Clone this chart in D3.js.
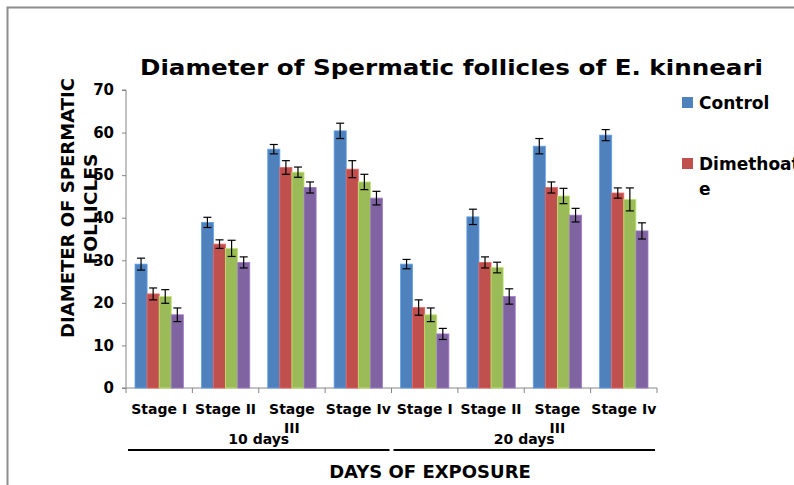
<!DOCTYPE html>
<html>
<head>
<meta charset="utf-8">
<script src="https://cdn.jsdelivr.net/npm/d3@7"></script>
<style>
  body { margin: 0; background: #fff; }
  text { font-family: "DejaVu Sans", Arial, sans-serif; font-weight: bold; fill: #000; }
  .axis path, .axis line { stroke: #868686; }
</style>
</head>
<body>
<div id="chart"></div>
<script>
// DATA
const periods = ['10 days', '20 days']
const stages = ['Stage I', 'Stage II', 'Stage III', 'Stage Iv']
const seriesNames = ['Control', 'Dimethoate', 'Series 3', 'Series 4']
const seriesColours = ['#4F81BD', '#C0504D', '#9BBB59', '#8064A2']
// values per series, order: 10 days (I, II, III, Iv), 20 days (I, II, III, Iv)
const control    = [29.1, 38.9, 56.1, 60.4, 29.1, 40.2, 56.8, 59.4]
const dimethoate = [22.1, 33.8, 51.8, 51.4, 18.9, 29.5, 47.1, 45.8]
const series3    = [21.5, 32.8, 50.7, 48.4, 17.2, 28.3, 45.1, 44.3]
const series4    = [17.2, 29.5, 47.1, 44.6, 12.7, 21.5, 40.6, 36.9]
const errControl    = [1.4, 1.2, 1.1, 1.8, 1.1, 1.8, 1.8, 1.3]
const errDimethoate = [1.4, 1.0, 1.6, 2.0, 1.8, 1.3, 1.3, 1.2]
const errSeries3    = [1.6, 1.9, 1.2, 1.8, 1.6, 1.25, 1.8, 2.7]
const errSeries4    = [1.6, 1.3, 1.3, 1.6, 1.3, 1.8, 1.6, 1.9]
const yTicks = [0, 10, 20, 30, 40, 50, 60, 70]

const values = [control, dimethoate, series3, series4]
const errors = [errControl, errDimethoate, errSeries3, errSeries4]

//MARGIN CONVENTION
const W = 794, H = 485
const PLOT = { LEFT: 126, RIGHT: 657, TOP: 90, BOTTOM: 388 }

const svg = d3.select('#chart').append('svg')
  .attr('width', W).attr('height', H)

// frame
svg.append('rect').attr('x', 7.5).attr('y', 7.5).attr('width', W + 20).attr('height', H + 20)
  .attr('fill', 'none').attr('stroke', '#8c8c8c').attr('stroke-width', 2)

// categories
const cats = []
periods.forEach(p => stages.forEach(s => cats.push(p + '|' + s)))

//SCALES
const x0 = d3.scaleBand().domain(cats).range([PLOT.LEFT, PLOT.RIGHT])
const x1 = d3.scaleBand().domain(seriesNames).range([9, x0.bandwidth() - 9])
const y = d3.scaleLinear().domain([0, 70]).range([PLOT.BOTTOM, PLOT.TOP])

// TITLE
svg.append('text').text('Diameter of Spermatic follicles of E. kinneari')
  .attr('x', 140).attr('y', 75)
  .attr('textLength', 623).attr('lengthAdjust', 'spacingAndGlyphs')
  .style('font-size', '22px')

// Y AXIS
const gY = svg.append('g').attr('class', 'axis')
  .attr('transform', `translate(${PLOT.LEFT},0)`)
  .call(d3.axisLeft(y).tickValues(yTicks).tickSize(4).tickPadding(8))
gY.select('.domain').attr('d', `M-4,${PLOT.TOP}H0V${PLOT.BOTTOM}H-4`)
gY.selectAll('text').style('font-size', '15px').style('font-family', '"DejaVu Sans", Arial, sans-serif').style('font-weight', 'bold')

// X AXIS (band boundaries as ticks)
const gX = svg.append('g').attr('class', 'axis')
gX.append('line').attr('x1', PLOT.LEFT).attr('x2', PLOT.RIGHT)
  .attr('y1', PLOT.BOTTOM).attr('y2', PLOT.BOTTOM)
const bounds = cats.map(c => x0(c)).concat([PLOT.RIGHT])
gX.selectAll('.tk').data(bounds).join('line').attr('class', 'tk')
  .attr('x1', d => d).attr('x2', d => d)
  .attr('y1', PLOT.BOTTOM).attr('y2', PLOT.BOTTOM + 5)

// stage labels
cats.forEach(c => {
  const label = c.split('|')[1]
  const t = svg.append('text').attr('text-anchor', 'middle')
    .attr('x', x0(c) + x0.bandwidth() / 2).attr('y', 414)
    .style('font-size', '14px')
  const words = label.length > 8 ? label.split(' ') : [label]
  words.forEach((w, i) => t.append('tspan')
    .attr('x', x0(c) + x0.bandwidth() / 2).attr('dy', i ? 19 : 0).text(w))
})

// period labels and lines
periods.forEach(p => {
  const first = x0(p + '|' + stages[0])
  const last = x0(p + '|' + stages[stages.length - 1]) + x0.bandwidth()
  svg.append('text').text(p).attr('text-anchor', 'middle')
    .attr('x', (first + last) / 2).attr('y', 444)
    .style('font-size', '14px')
  svg.append('line').attr('x1', first + 2).attr('x2', last - 2)
    .attr('y1', 450).attr('y2', 450)
    .attr('stroke', '#000').attr('stroke-width', 2)
})

svg.append('text').text('DAYS OF EXPOSURE').attr('text-anchor', 'middle')
  .attr('x', 430).attr('y', 478).style('font-size', '18px')

// Y TITLE
svg.append('text').text('DIAMETER OF SPERMATIC').attr('text-anchor', 'middle')
  .attr('transform', 'translate(74,208) rotate(-90)')
  .attr('textLength', 260).attr('lengthAdjust', 'spacingAndGlyphs')
  .style('font-size', '18px')
svg.append('text').text('FOLLICLES').attr('text-anchor', 'middle')
  .attr('transform', 'translate(97,209) rotate(-90)')
  .attr('textLength', 111).attr('lengthAdjust', 'spacingAndGlyphs')
  .style('font-size', '18px')

// BARS
const gBars = svg.append('g')
values.forEach((vals, si) => {
  const g = gBars.append('g')
  g.selectAll('rect').data(vals).join('rect')
    .attr('x', (d, i) => x0(cats[i]) + x1(seriesNames[si]))
    .attr('y', d => y(d))
    .attr('width', x1.bandwidth())
    .attr('height', d => y(0) - y(d))
    .attr('fill', seriesColours[si])
    .attr('stroke', d3.color(seriesColours[si]).brighter(0.6))
    .attr('stroke-width', 0.8)
})

// ERROR BARS
values.forEach((vals, si) => {
  const g = gBars.append('g').attr('stroke', '#000').attr('stroke-width', 1.2)
  vals.forEach((v, i) => {
    const cx = x0(cats[i]) + x1(seriesNames[si]) + x1.bandwidth() / 2
    const e = errors[si][i]
    g.append('line').attr('x1', cx).attr('x2', cx).attr('y1', y(v + e)).attr('y2', y(v - e))
    g.append('line').attr('x1', cx - 4).attr('x2', cx + 4).attr('y1', y(v + e)).attr('y2', y(v + e))
    g.append('line').attr('x1', cx - 4).attr('x2', cx + 4).attr('y1', y(v - e)).attr('y2', y(v - e))
  })
})

// LEGEND (only first two entries are visible in the reference)
const legend = svg.append('g')
seriesNames.slice(0, 2).forEach((name, i) => {
  const ly = 97 + i * 61
  legend.append('rect').attr('x', 682).attr('y', ly).attr('width', 11).attr('height', 11)
    .attr('fill', seriesColours[i])
  const t = legend.append('text').attr('x', 699).attr('y', ly + 12).style('font-size', '17px')
  const parts = name.length > 9 ? [name.slice(0, 9), name.slice(9)] : [name]
  parts.forEach((p, k) => t.append('tspan').attr('x', 699).attr('dy', k ? 25 : 0).text(p))
})
</script>
</body>
</html>
